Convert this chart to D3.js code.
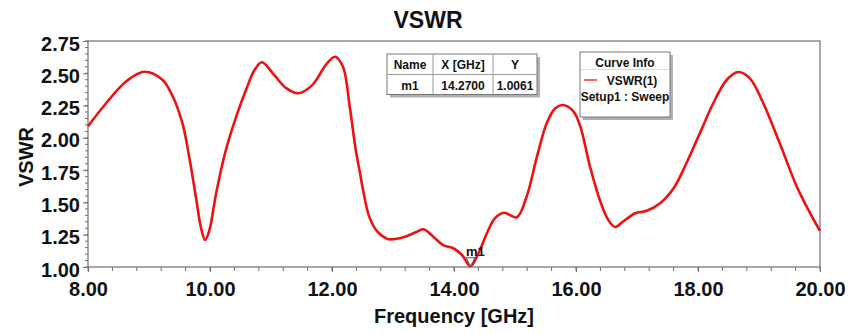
<!DOCTYPE html>
<html><head><meta charset="utf-8">
<script src="https://cdn.jsdelivr.net/npm/d3@7"></script>
<style>
html,body{margin:0;padding:0;background:#fff;}
svg{display:block;font-family:"Liberation Sans",Arial,sans-serif;font-weight:bold;}
</style></head>
<body><svg id="c" width="856" height="334"></svg>
<script>
const freq = [8.00,8.30,8.62,8.92,9.22,9.39,9.55,9.66,9.77,9.85,9.92,9.99,10.10,10.26,10.43,10.59,10.73,10.85,11.03,11.25,11.45,11.68,11.90,12.05,12.18,12.29,12.39,12.46,12.50,12.61,12.75,12.89,12.95,13.17,13.39,13.50,13.66,13.82,13.99,14.13,14.27,14.40,14.54,14.67,14.82,15.03,15.19,15.36,15.52,15.66,15.79,15.96,16.07,16.23,16.39,16.53,16.64,16.77,16.97,17.16,17.38,17.60,17.81,18.03,18.25,18.47,18.66,18.85,19.07,19.34,19.62,19.84,20.00];
const vswr = [2.09,2.27,2.435,2.512,2.45,2.32,2.11,1.85,1.54,1.31,1.21,1.285,1.57,1.905,2.165,2.37,2.525,2.585,2.50,2.385,2.345,2.41,2.565,2.628,2.55,2.245,1.905,1.725,1.62,1.39,1.27,1.222,1.214,1.23,1.273,1.292,1.235,1.17,1.145,1.093,1.006,1.106,1.261,1.377,1.42,1.385,1.544,1.854,2.113,2.229,2.254,2.203,2.09,1.777,1.519,1.364,1.31,1.351,1.416,1.435,1.493,1.609,1.803,2.035,2.268,2.448,2.51,2.461,2.268,1.958,1.622,1.416,1.28];
const xTicks = [8,10,12,14,16,18,20];
const yTicks = [1.00,1.25,1.50,1.75,2.00,2.25,2.50,2.75];
const markerName = "m1", markerX = 14.27, markerY = 1.0061;
const tableHeader = ["Name","X [GHz]","Y"];
const tableRow = ["m1","14.2700","1.0061"];
const legendLines = ["VSWR(1)","Setup1 : Sweep"];

const svg = d3.select("#c");
const L=88,R=820,T=41,B=267;
const x = d3.scaleLinear().domain([8,20]).range([L,R]);
const y = d3.scaleLinear().domain([1,2.75]).range([B,T]);
const axisCol = "#6e6e6e";

// frame
svg.append("rect").attr("x",L).attr("y",T).attr("width",R-L).attr("height",B-T)
  .attr("fill","none").attr("stroke",axisCol).attr("stroke-width",1.2);

// minor ticks
const xMinor = d3.range(8,20.001,0.4);
svg.append("g").selectAll("line").data(xMinor).join("line")
  .attr("x1",d=>x(d)).attr("x2",d=>x(d)).attr("y1",B).attr("y2",B+4)
  .attr("stroke",axisCol).attr("stroke-width",1);
const yMinor = d3.range(1,2.7501,0.05);
svg.append("g").selectAll("line").data(yMinor).join("line")
  .attr("x1",L-3).attr("x2",L).attr("y1",d=>y(d)).attr("y2",d=>y(d))
  .attr("stroke",axisCol).attr("stroke-width",1);

// axes
const xa = svg.append("g").attr("transform",`translate(0,${B})`)
  .call(d3.axisBottom(x).tickValues(xTicks).tickFormat(d3.format(".2f")).tickSize(5).tickPadding(10));
const ya = svg.append("g").attr("transform",`translate(${L},0)`)
  .call(d3.axisLeft(y).tickValues(yTicks).tickFormat(d3.format(".2f")).tickSize(5).tickPadding(3));
[xa,ya].forEach(a=>{
  a.select(".domain").remove();
  a.selectAll("line").attr("stroke",axisCol);
  a.selectAll("text").attr("font-size",20).attr("font-weight","bold").attr("fill","#111")
   .attr("font-family","'Liberation Sans',Arial,sans-serif");
});
ya.selectAll("text").attr("dy","0.45em");

// titles
svg.append("text").attr("x",428).attr("y",28).attr("text-anchor","middle")
  .attr("font-size",23).attr("fill","#111").text("VSWR");
svg.append("text").attr("x",454).attr("y",323).attr("text-anchor","middle")
  .attr("font-size",20).attr("fill","#111").text("Frequency [GHz]");
svg.append("text").attr("transform","translate(33,157) rotate(-90)").attr("text-anchor","middle")
  .attr("font-size",20).attr("fill","#111").text("VSWR");

// curve
const pts = freq.map((f,i)=>[f,vswr[i]]);
svg.append("path").datum(pts)
  .attr("d",d3.line().x(d=>x(d[0])).y(d=>y(d[1])).curve(d3.curveCatmullRom.alpha(0.5)))
  .attr("fill","none").attr("stroke","#ee1111").attr("stroke-width",2.6);

// marker
const mx=x(markerX), my=y(markerY);
svg.append("path").attr("d",`M${mx-4.5},${my-8.5} L${mx+4.5},${my-8.5} L${mx},${my} Z`)
  .attr("fill","#fff").attr("stroke","#555").attr("stroke-width",1);
svg.append("text").attr("x",mx-4.5).attr("y",my-10.5).attr("font-size",13).attr("fill","#111").text(markerName);

// marker table
const tx=387, ty=54, colX=[387,433,493,537], rowY=[54,74.5,94.5];
svg.append("rect").attr("x",tx+3).attr("y",ty+3).attr("width",150).attr("height",40.5).attr("fill","#b0b0b0");
svg.append("rect").attr("x",tx).attr("y",ty).attr("width",150).attr("height",40.5)
  .attr("fill","#fff").attr("stroke","#777").attr("stroke-width",1);
svg.append("line").attr("x1",tx).attr("x2",tx+150).attr("y1",rowY[1]).attr("y2",rowY[1]).attr("stroke","#999");
[colX[1],colX[2]].forEach(cx=>svg.append("line").attr("x1",cx).attr("x2",cx).attr("y1",ty).attr("y2",ty+40.5).attr("stroke","#999"));
tableHeader.forEach((t,i)=>svg.append("text").attr("x",(colX[i]+colX[i+1])/2).attr("y",69).attr("text-anchor","middle").attr("font-size",12).attr("fill","#111").text(t));
tableRow.forEach((t,i)=>svg.append("text").attr("x",(colX[i]+colX[i+1])/2).attr("y",89.5).attr("text-anchor","middle").attr("font-size",12).attr("fill","#111").text(t));

// curve info legend
const lx=580, ly=52, lw=90, lh=65;
svg.append("rect").attr("x",lx+3).attr("y",ly+3).attr("width",lw).attr("height",lh).attr("fill","#b0b0b0");
svg.append("rect").attr("x",lx).attr("y",ly).attr("width",lw).attr("height",lh)
  .attr("fill","#fff").attr("stroke","#777").attr("stroke-width",1);
svg.append("text").attr("x",lx+lw/2).attr("y",ly+15).attr("text-anchor","middle").attr("font-size",12).attr("fill","#111").text("Curve Info");
svg.append("line").attr("x1",lx+1).attr("x2",lx+lw-1).attr("y1",ly+17.5).attr("y2",ly+17.5).attr("stroke","#ddd");
svg.append("line").attr("x1",lx+4).attr("x2",lx+17).attr("y1",ly+28).attr("y2",ly+28).attr("stroke","#ee1111").attr("stroke-width",1.3);
svg.append("text").attr("x",lx+52).attr("y",ly+33).attr("text-anchor","middle").attr("font-size",12).attr("fill","#111").text(legendLines[0]);
svg.append("text").attr("x",lx+lw/2).attr("y",ly+48.5).attr("text-anchor","middle").attr("font-size",12).attr("fill","#111").text(legendLines[1]);
</script></body></html>
